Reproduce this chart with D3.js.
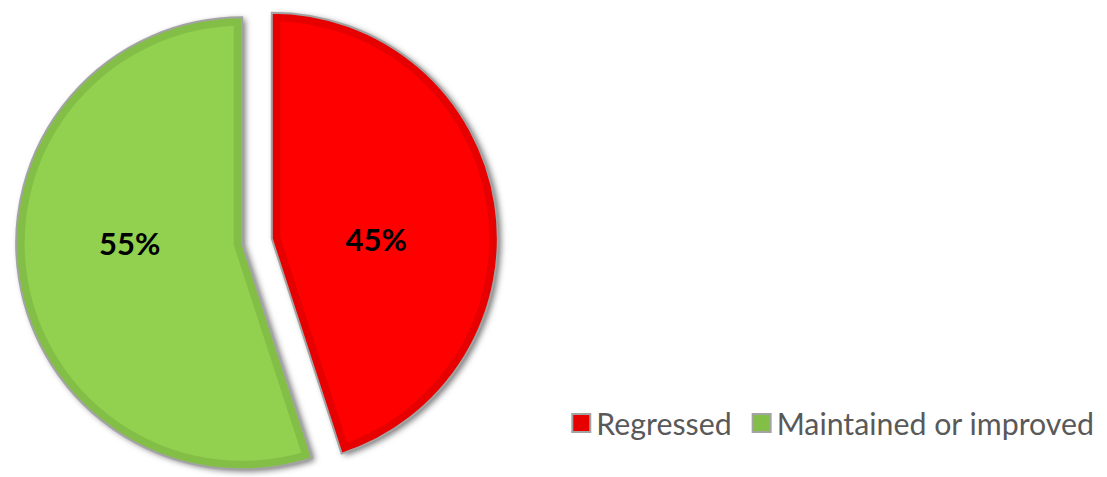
<!DOCTYPE html>
<html>
<head>
<meta charset="utf-8">
<script src="https://cdn.jsdelivr.net/npm/d3@7/dist/d3.min.js"></script>
<style>
  html, body { margin: 0; padding: 0; background: #fff; }
  svg { display: block; }
</style>
</head>
<body>
<svg id="chart" width="1107" height="477"></svg>
<script>
// Share of students by outcome
const categories = ["Regressed", "Maintained or improved"];
const shares = [45, 55];
const labels = ["45%", "55%"];
const fills = ["#FF0000", "#92D050"];
const bands = ["#E60000", "#83BF47"];

const W = 1107, H = 477;
const svg = d3.select("#chart");
const defs = svg.append("defs");

const center = { x: 257, y: 241 };
const radius = 226;
const explode = 15;

const shadow = defs.append("filter").attr("id", "shadow")
  .attr("x", "-20%").attr("y", "-20%").attr("width", "140%").attr("height", "140%");
shadow.append("feDropShadow")
  .attr("dx", 3).attr("dy", 2).attr("stdDeviation", 3)
  .attr("flood-color", "#000").attr("flood-opacity", 0.55);

const pie = d3.pie().sort(null).value(d => d.value);
const arcs = pie(categories.map((c, i) => ({ name: c, value: shares[i], i })));
const arc = d3.arc().innerRadius(0).outerRadius(radius);

const g = svg.append("g");

arcs.forEach((a, k) => {
  const mid = (a.startAngle + a.endAngle) / 2;
  const ox = center.x + Math.sin(mid) * explode;
  const oy = center.y - Math.cos(mid) * explode;
  const sg = g.append("g").attr("transform", `translate(${ox},${oy})`);
  const d = arc(a);
  const clipId = "clip" + k;
  defs.append("clipPath").attr("id", clipId).append("path").attr("d", d);

  sg.append("path").attr("d", d).attr("fill", fills[a.data.i]).attr("filter", "url(#shadow)");
  // darker bevel band along the slice edge
  sg.append("path").attr("d", d)
    .attr("fill", "none")
    .attr("stroke", bands[a.data.i])
    .attr("stroke-width", 17)
    .attr("stroke-linejoin", "miter")
    .attr("clip-path", `url(#${clipId})`);
  sg.append("path").attr("d", d)
    .attr("fill", "none")
    .attr("stroke", "#A3A3A3")
    .attr("stroke-width", 2)
    .attr("stroke-linejoin", "miter");

  const side = Math.sin(mid) >= 0 ? 1 : -1;
  sg.append("text")
    .attr("x", side * radius * 0.48 - 4)
    .attr("y", 0)
    .attr("text-anchor", "middle")
    .attr("dominant-baseline", "central")
    .attr("font-family", "Lato, 'Open Sans', sans-serif")
    .attr("font-weight", "bold")
    .attr("font-size", 31)
    .attr("fill", "#000")
    .text(labels[a.data.i]);
});

// Legend, right-aligned at the bottom
const legend = svg.append("g");
const fontSize = 30.3;
const box = 18, gapBoxText = 6, gapItems = 20;
const items = [];
categories.forEach((c, i) => {
  const it = legend.append("g");
  it.append("rect").attr("x", 1).attr("y", -box / 2).attr("width", box).attr("height", box)
    .attr("fill", bands[i]).attr("stroke", "#A3A3A3").attr("stroke-width", 2);
  const t = it.append("text")
    .attr("x", box + gapBoxText + 1)
    .attr("y", 0)
    .attr("dominant-baseline", "central")
    .attr("font-family", "Lato, 'Open Sans', sans-serif")
    .attr("font-size", fontSize)
    .attr("fill", "#595959")
    .text(c);
  items.push({ g: it, w: box + gapBoxText + 1 + t.node().getComputedTextLength() });
});
const totalW = d3.sum(items, d => d.w) + gapItems * (items.length - 1);
let lx = 1094 - totalW;
items.forEach(it => {
  it.g.attr("transform", `translate(${lx},423)`);
  lx += it.w + gapItems;
});
</script>
</body>
</html>
